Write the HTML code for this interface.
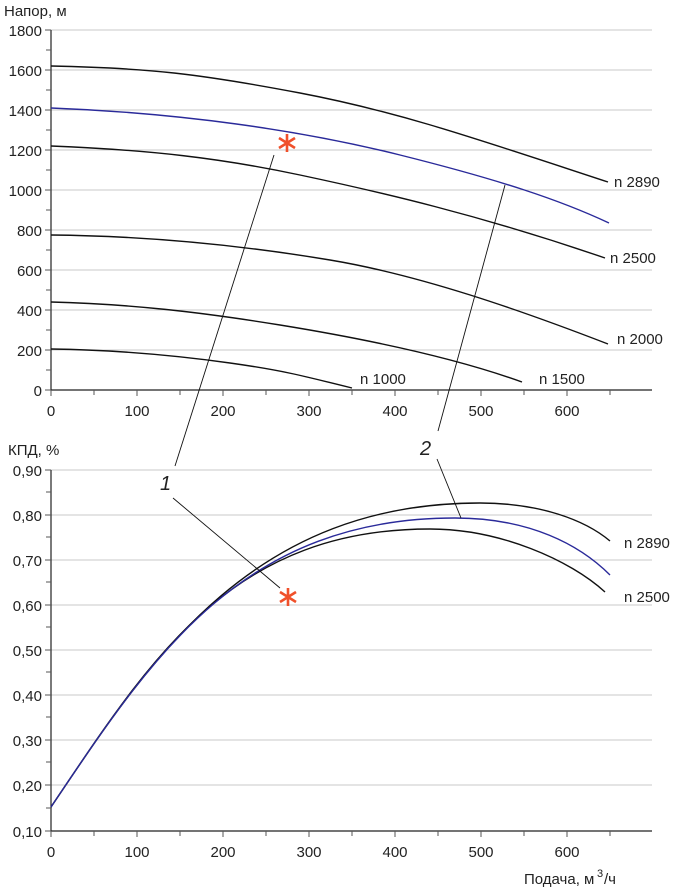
<!DOCTYPE html>
<html><head><meta charset="utf-8"><style>
html,body{margin:0;padding:0;background:#fff;}
svg{display:block;font-family:"Liberation Sans",Arial,sans-serif;}
</style></head><body>
<svg width="680" height="890" viewBox="0 0 680 890">
<g stroke="#c8c8c8" stroke-width="1">
<line x1="51" y1="30" x2="652" y2="30"/><line x1="51" y1="70" x2="652" y2="70"/><line x1="51" y1="110" x2="652" y2="110"/><line x1="51" y1="150" x2="652" y2="150"/><line x1="51" y1="190" x2="652" y2="190"/><line x1="51" y1="230" x2="652" y2="230"/><line x1="51" y1="270" x2="652" y2="270"/><line x1="51" y1="310" x2="652" y2="310"/><line x1="51" y1="350" x2="652" y2="350"/>
<line x1="51" y1="470" x2="652" y2="470"/><line x1="51" y1="515" x2="652" y2="515"/><line x1="51" y1="560" x2="652" y2="560"/><line x1="51" y1="605" x2="652" y2="605"/><line x1="51" y1="650" x2="652" y2="650"/><line x1="51" y1="695" x2="652" y2="695"/><line x1="51" y1="740" x2="652" y2="740"/><line x1="51" y1="785" x2="652" y2="785"/>
</g>
<g stroke="#222" stroke-width="1.2" fill="none">
<path d="M51 30V390H652"/><path d="M51 470V831H652"/>
</g>
<g stroke="#555" stroke-width="1">
<path d="M45 30h6M45 70h6M45 110h6M45 150h6M45 190h6M45 230h6M45 270h6M45 310h6M45 350h6M45 390h6M46 50h5M46 90h5M46 130h5M46 170h5M46 210h5M46 250h5M46 290h5M46 330h5M46 370h5"/>
<path d="M51 390v6M94 390v5M137 390v6M180 390v5M223 390v6M266 390v5M309 390v6M352 390v5M395 390v6M438 390v5M481 390v6M524 390v5M567 390v6M610 390v5"/>
<path d="M45 470h6M45 515h6M45 560h6M45 605h6M45 650h6M45 695h6M45 740h6M45 785h6M45 831h6M46 492h5M46 537h5M46 582h5M46 627h5M46 672h5M46 717h5M46 762h5M46 808h5"/>
<path d="M51 831v6M94 831v5M137 831v6M180 831v5M223 831v6M266 831v5M309 831v6M352 831v5M395 831v6M438 831v5M481 831v6M524 831v5M567 831v6M610 831v5"/>
</g>
<g fill="#222" font-size="15">
<text x="4" y="16">Напор, м</text>
<g text-anchor="end"><text x="42" y="36">1800</text><text x="42" y="76">1600</text><text x="42" y="116">1400</text><text x="42" y="156">1200</text><text x="42" y="196">1000</text><text x="42" y="236">800</text><text x="42" y="276">600</text><text x="42" y="316">400</text><text x="42" y="356">200</text><text x="42" y="396">0</text></g>
<g text-anchor="middle"><text x="51" y="416">0</text><text x="137" y="416">100</text><text x="223" y="416">200</text><text x="309" y="416">300</text><text x="395" y="416">400</text><text x="481" y="416">500</text><text x="567" y="416">600</text>
<text x="51" y="857">0</text><text x="137" y="857">100</text><text x="223" y="857">200</text><text x="309" y="857">300</text><text x="395" y="857">400</text><text x="481" y="857">500</text><text x="567" y="857">600</text></g>
<text x="8" y="455">КПД, %</text>
<g text-anchor="end"><text x="42" y="476">0,90</text><text x="42" y="521">0,80</text><text x="42" y="566">0,70</text><text x="42" y="611">0,60</text><text x="42" y="656">0,50</text><text x="42" y="701">0,40</text><text x="42" y="746">0,30</text><text x="42" y="791">0,20</text><text x="42" y="837">0,10</text></g>
<text x="524" y="884">Подача, м</text><text x="597" y="877" font-size="11">3</text><text x="604" y="884">/ч</text>
<text x="614" y="187">n 2890</text><text x="610" y="263">n 2500</text><text x="617" y="344">n 2000</text><text x="539" y="384">n 1500</text><text x="360" y="384">n 1000</text>
<text x="624" y="548">n 2890</text><text x="624" y="602">n 2500</text>
<text x="160" y="490" font-size="20" font-style="italic">1</text><text x="420" y="455" font-size="20" font-style="italic">2</text>
</g>
<g fill="none" stroke="#111" stroke-width="1.4">
<path d="M51 66C150 68 200 74 300 93S480 140 608 182"/>
<path d="M51 146C150 150 220 158 300 175S480 215 605 258"/>
<path d="M51 235C150 236 240 245 330 260S520 310 608 344"/>
<path d="M51 302C130 304 200 312 280 325S450 356 522 382"/>
<path d="M51 349C120 350 180 356 230 363S300 375 352 388"/>
<path d="M51 807C150 660 250 503 480 503C540 503 585 520 610 541"/>
<path d="M51 807C150 660 230 529 430 529C500 529 570 560 605 592"/>
</g>
<g fill="none" stroke="#2a2a9a" stroke-width="1.4">
<path d="M51 108C180 113 300 130 400 155S560 200 609 223"/>
<path d="M51 807C150 660 240 518 455 518C530 518 580 545 610 575"/>
</g>
<g stroke="#111" stroke-width="0.9">
<line x1="175" y1="466" x2="274" y2="155"/><line x1="173" y1="498" x2="280" y2="588"/>
<line x1="438" y1="431" x2="505" y2="185"/><line x1="437" y1="459" x2="461" y2="518"/>
</g>
<g stroke="#f0502a" stroke-width="2.6">
<path d="M287 134v18M279 138l16 10M279 148l16-10"/>
<path d="M288 588v18M280 592l16 10M280 602l16-10"/>
</g>
</svg>
</body></html>
